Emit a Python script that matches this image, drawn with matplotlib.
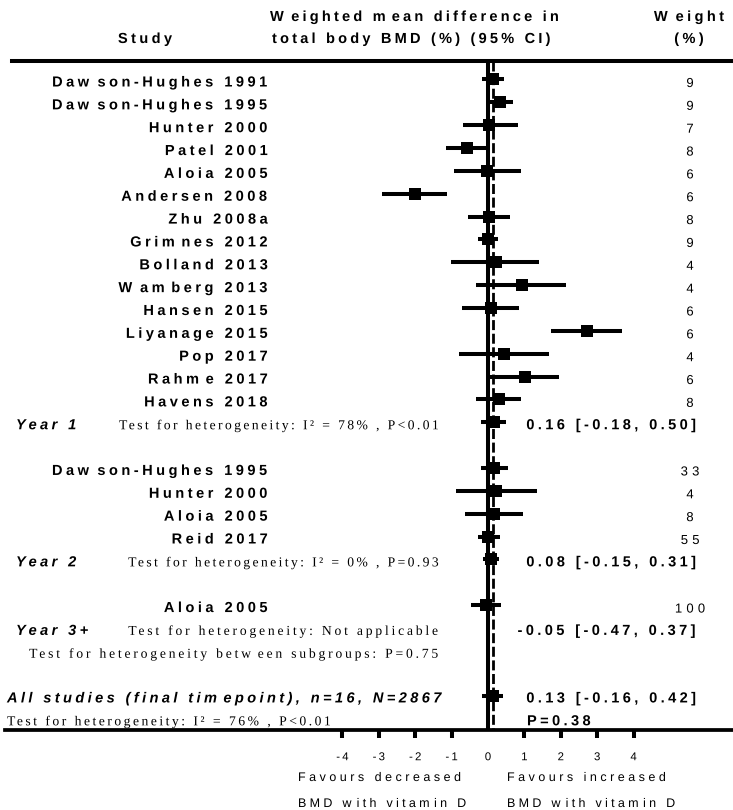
import numpy as np
import matplotlib
matplotlib.use("Agg")
import matplotlib.pyplot as plt
import matplotlib.patheffects as pe
from matplotlib.path import Path
from matplotlib.font_manager import FontProperties, findfont
from matplotlib.ft2font import FT2Font

plt.rcParams['axes.unicode_minus'] = False

# ---------------- data ----------------
y1_study = ["Dawson-Hughes 1991", "Dawson-Hughes 1995", "Hunter 2000", "Patel 2001",
            "Aloia 2005", "Andersen 2008", "Zhu 2008a", "Grimnes 2012", "Bolland 2013",
            "Wamberg 2013", "Hansen 2015", "Liyanage 2015", "Pop 2017", "Rahme 2017",
            "Havens 2018"]
y1_mean = [0.13, 0.33, 0.04, -0.57, -0.02, -2.00, 0.04, 0.01, 0.22, 0.93, 0.08, 2.71, 0.45, 1.02, 0.30]
y1_lo = [-0.17, 0.02, -0.70, -1.15, -0.93, -2.90, -0.54, -0.27, -1.02, -0.33, -0.71, 1.73, -0.79, 0.03, -0.33]
y1_hi = [0.45, 0.68, 0.82, -0.02, 0.90, -1.13, 0.60, 0.27, 1.40, 2.14, 0.86, 3.67, 1.68, 1.94, 0.92]
y1_weight = [9, 9, 7, 8, 6, 6, 8, 9, 4, 4, 6, 6, 4, 6, 8]

y2_study = ["Dawson-Hughes 1995", "Hunter 2000", "Aloia 2005", "Reid 2017"]
y2_mean = [0.17, 0.22, 0.17, 0.00]
y2_lo = [-0.20, -0.88, -0.63, -0.27]
y2_hi = [0.56, 1.34, 0.97, 0.33]
y2_weight = [33, 4, 8, 55]

y3_study = ["Aloia 2005"]
y3_mean = [-0.05]
y3_lo = [-0.47]
y3_hi = [0.37]
y3_weight = [100]

group_name = ["Year 1", "Year 2", "Year 3+"]
group_mean = [0.16, 0.08, -0.05]
group_lo = [-0.18, -0.15, -0.47]
group_hi = [0.50, 0.31, 0.37]
group_het = ["Test for heterogeneity: I² = 78% , P<0.01",
             "Test for heterogeneity: I² = 0% , P=0.93",
             "Test for heterogeneity: Not applicable"]
group_marker = [True, True, False]   # no summary box drawn for year 3+

subgroup_test = "Test for heterogeneity between subgroups: P=0.75"
overall_label = "All studies (final timepoint), n=16, N=2867"
overall_mean, overall_lo, overall_hi = 0.13, -0.16, 0.42
overall_het = "Test for heterogeneity: I² = 76% , P<0.01"
overall_p = "P=0.38"

xticks = [-4, -3, -2, -1, 0, 1, 2, 3, 4]

# ---------------- layout (pixels) ----------------
W, H = 733, 810
Y0, DY = 79.5, 22.85        # first row centre, row pitch
X0, DX = 488, 36.4          # x=0 position, px per unit
AX_LEFT, AX_BOTTOM = 5, 730


def row_px(r):
    return Y0 + DY * r


class Tracking(pe.AbstractPathEffect):
    """letter spacing in px - the original export has very wide tracking,
    and a bit more after w / m"""
    _fonts = {}
    after = {'w': 1.4, 'W': 1.4, 'm': 0.9}

    def __init__(self, artist, track, extra=1.0):
        super().__init__()
        self.artist = artist
        self.track = track
        self.extra = extra

    def _pens(self):
        fname = findfont(self.artist.get_fontproperties())
        if fname not in self._fonts:
            f = FT2Font(fname)
            f.set_size(100, 72)
            self._fonts[fname] = f
        f = self._fonts[fname]
        adv = [f.load_char(ord(c)).linearHoriAdvance / 65536 for c in self.artist.get_text()]
        return np.concatenate([[0], np.cumsum(adv)])

    def draw_path(self, renderer, gc, tpath, affine, rgbFace=None):
        s = self.artist.get_text()
        pens = self._pens()
        n = len(pens) - 1
        verts = tpath.vertices.copy()
        codes = tpath.codes
        if n > 1 and codes is not None:
            px = affine.get_matrix()[0, 0]
            gaps = [self.track * (1 + self.extra * self.after.get(c, 0)) for c in s[:-1]]
            shift = np.concatenate([[0], np.cumsum(gaps)])
            frac = {'left': 0, 'center': 0.5, 'right': 1}[self.artist.get_horizontalalignment()]
            shift = (shift - frac * shift[-1]) / px
            starts = np.flatnonzero(codes == Path.MOVETO)
            ends = np.append(starts[1:], len(codes))
            for a, b in zip(starts, ends):
                seg = verts[a:b][codes[a:b] != Path.CLOSEPOLY]
                xc = 0.5 * (seg[:, 0].min() + seg[:, 0].max())
                i = int(np.clip(np.searchsorted(pens, xc, side='right') - 1, 0, n - 1))
                verts[a:b, 0] += shift[i]
        renderer.draw_path(gc, Path(verts, codes), affine, rgbFace)


fig = plt.figure(figsize=(W / 100, H / 100), dpi=100, facecolor='white')


def label(x, y, s, size=10.5, weight='bold', style='normal', family='Liberation Sans',
          track=3.4, ha='left', extra=1.0):
    fp = FontProperties(family=family, size=size, weight=weight, style=style)
    t = fig.text(x / W, 1 - y / H, s, fontproperties=fp, ha=ha, va='baseline')
    t.set_path_effects([Tracking(t, track, extra)])
    return t


def serif(x, y, s, track=2.8, ha='right'):
    return label(x, y, s, size=9.8, weight='normal', family='Liberation Serif', track=track, ha=ha)


ax = fig.add_axes([AX_LEFT / W, (H - AX_BOTTOM) / H, (W - AX_LEFT) / W, AX_BOTTOM / H])
ax.set_xlim((AX_LEFT - X0) / DX, (W - X0) / DX)
y_bottom = (AX_BOTTOM - Y0) / DY
ax.set_ylim(y_bottom, -Y0 / DY)
ax.patch.set_alpha(0)

groups = [(y1_study, y1_mean, y1_lo, y1_hi, y1_weight),
          (y2_study, y2_mean, y2_lo, y2_hi, y2_weight),
          (y3_study, y3_mean, y3_lo, y3_hi, y3_weight)]

hdr_row = (61.3 - Y0) / DY
ax.axhline(hdr_row, xmin=(12 - AX_LEFT) / (W - AX_LEFT), color='k', lw=2.9)
ax.vlines(0, hdr_row, y_bottom, color='k', lw=2.9)
ax.vlines(overall_mean, hdr_row, y_bottom, color='k', lw=2.0, linestyles=[(0, (3.6, 1.3))])

r = 0
sum_rows = []
for gi, (names, mean, lo, hi, wt) in enumerate(groups):
    rows = np.arange(r, r + len(names))
    ax.hlines(rows, lo, hi, color='k', lw=2.9)
    ax.plot(mean, rows, 's', color='k', ms=9, mew=0)
    for rr, nm, w in zip(rows, names, wt):
        label(268, row_px(rr) + 7, nm, track=3.5, ha='right')
        label(690, row_px(rr) + 7.5, str(w), size=9.4, weight='normal', track=4.2, ha='center')
    sr = r + len(names)
    sum_rows.append(sr)
    if group_marker[gi]:
        ax.hlines(sr, group_lo[gi], group_hi[gi], color='k', lw=2.9)
        ax.plot(group_mean[gi], sr, 's', color='k', ms=9, mew=0)
    label(16, row_px(sr) + 7, group_name[gi], style='italic')
    serif(439, row_px(sr) + 7, group_het[gi], track=2.4 if 'I²' in group_het[gi] else 2.8)
    label(697, row_px(sr) + 7, f"{group_mean[gi]:.2f} [{group_lo[gi]:.2f}, {group_hi[gi]:.2f}]", ha='right')
    r = sr + 2

sub_row = sum_rows[-1] + 1
serif(439, row_px(sub_row) + 7, subgroup_test)

ov_row = sub_row + 2
ax.hlines(ov_row, overall_lo, overall_hi, color='k', lw=2.9)
ax.plot(overall_mean, ov_row, 's', color='k', ms=9, mew=0)
label(7, row_px(ov_row) + 6, overall_label, style='italic', track=3.4)
label(697, row_px(ov_row) + 6, f"{overall_mean:.2f} [{overall_lo:.2f}, {overall_hi:.2f}]", ha='right')
serif(7, row_px(ov_row + 1) + 6, overall_het, track=2.5, ha='left')
label(527, row_px(ov_row + 1) + 6, overall_p)

# column headers
label(145, 43, "Study", ha='center')
label(270, 21, "Weighted mean difference in", track=3.2)
label(272, 43, "total body BMD (%) (95% CI)", track=3.2)
label(689, 21, "Weight", ha='center')
label(689, 43, "(%)", ha='center')

# x axis
for s in ['top', 'right', 'left']:
    ax.spines[s].set_visible(False)
ax.spines['bottom'].set_linewidth(2.7)
ax.set_yticks([])
ax.set_xticks(xticks)
ax.set_xticklabels([str(t) for t in xticks])
ax.tick_params(axis='x', direction='out', length=6, width=2.9, pad=10, labelsize=8.2)
for t in ax.get_xticklabels():
    t.set_fontfamily('Liberation Sans')
    t.set_path_effects([Tracking(t, 2.2)])
ax.xaxis.get_major_ticks()[xticks.index(0)].tick1line.set_visible(False)

for xx, words in [(298, ["Favours decreased", "BMD with vitamin D"]),
                  (507, ["Favours increased", "BMD with vitamin D"])]:
    label(xx, 781, words[0], size=9, weight='normal', track=3.5, extra=0)
    label(xx, 807, words[1], size=9, weight='normal', track=3.3, extra=0.4)

fig.savefig("out.png", dpi=100, facecolor='white')
